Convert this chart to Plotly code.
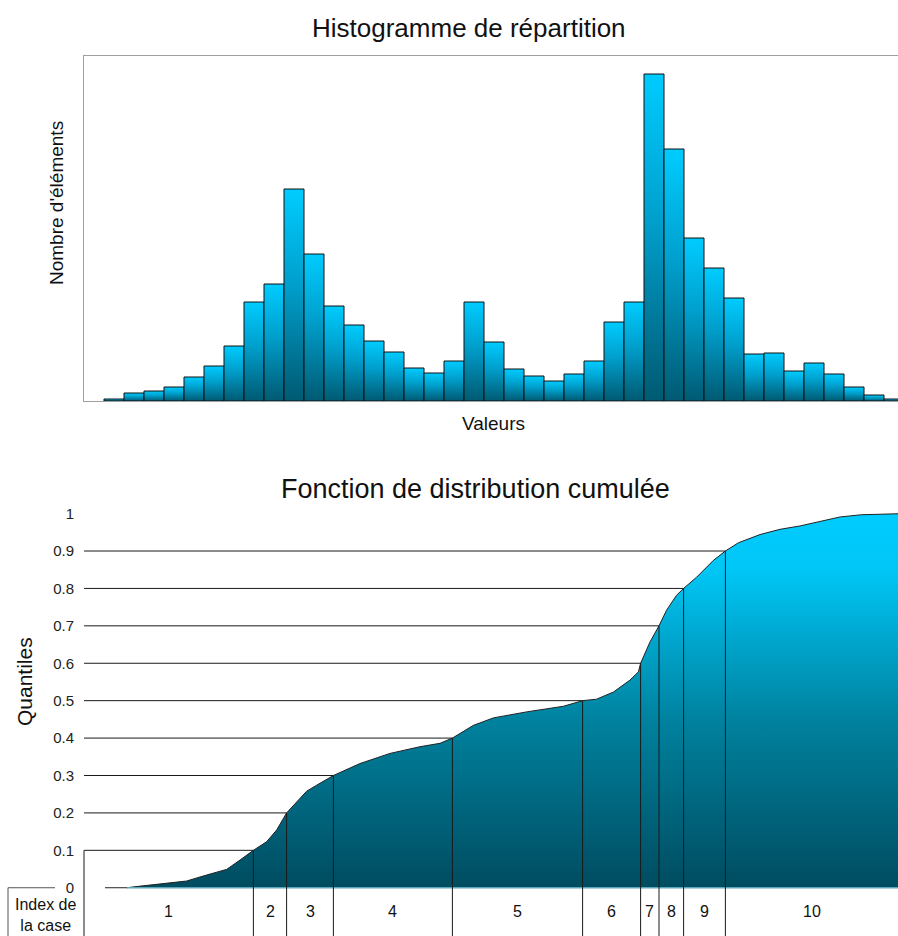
import numpy as np
import plotly.graph_objects as go

# Histogram (counts per bin, 40 bins of equal width)
hist_counts = [2, 8, 10, 14, 24, 35, 55, 99, 117, 212,
               147, 95, 76, 60, 49, 33, 28, 40, 99, 59,
               32, 25, 20, 27, 40, 79, 99, 327, 252, 163,
               133, 103, 47, 48, 30, 38, 27, 14, 6, 2]

# Cumulative distribution
cdf_x = [0.05, 1.15, 1.6, 3.13, 4.13, 5.13, 6.13, 6.8, 7.47, 8.13,
         8.63, 9.13, 9.8, 10.13, 10.63, 11.47, 12.8, 14.3, 15.8, 16.8,
         17.42, 18.47, 19.47, 21.13, 22.97, 23.93, 24.63, 25.47, 26.3, 26.72,
         26.83, 27.3, 27.75, 28.13, 28.63, 28.98, 29.63, 30.47, 31.07, 31.72,
         32.8, 33.8, 34.8, 35.8, 36.8, 37.88, 40.0]
cdf_y = [0, 0, 0.003, 0.012, 0.018, 0.034, 0.049, 0.074, 0.1, 0.123,
         0.154, 0.2, 0.239, 0.258, 0.274, 0.3, 0.332, 0.359, 0.377, 0.386,
         0.4, 0.434, 0.454, 0.47, 0.485, 0.5, 0.504, 0.523, 0.555, 0.577,
         0.6, 0.657, 0.7, 0.742, 0.782, 0.8, 0.83, 0.875, 0.9, 0.922,
         0.944, 0.958, 0.967, 0.98, 0.991, 0.997, 1.0]

levels = [0.1, 0.2, 0.3, 0.4, 0.5, 0.6, 0.7, 0.8, 0.9]
index_labels = ['1', '2', '3', '4', '5', '6', '7', '8', '9', '10']
y_ticks = [0, 0.1, 0.2, 0.3, 0.4, 0.5, 0.6, 0.7, 0.8, 0.9, 1]
y_ticktext = ['0', '0.1', '0.2', '0.3', '0.4', '0.5', '0.6', '0.7', '0.8', '0.9', '1']

W, H = 898, 936
FONT = 'Liberation Sans, Arial, sans-serif'
XMIN, XMAX = -1, 39.7
YLOW = -0.129

bar_scale = [[0, '#005a72'], [0.55, '#009fcc'], [1, '#00ccff']]
cdf_scale = [[0, '#004c60'], [0.45, '#00829f'], [0.85, '#00c6f6'], [1, '#00ccff']]

fig = go.Figure()

# histogram bars (one trace each so every bar gets its own gradient)
for i, h in enumerate(hist_counts):
    fig.add_trace(go.Scatter(
        x=[i, i, i + 1, i + 1, i], y=[0, h, h, 0, 0],
        mode='lines', fill='toself',
        fillgradient=dict(type='vertical', colorscale=bar_scale),
        line=dict(color='#111111', width=1),
        xaxis='x', yaxis='y', hoverinfo='skip', showlegend=False))

# cumulative curve
fig.add_trace(go.Scatter(
    x=cdf_x, y=cdf_y, mode='lines', fill='tozeroy',
    fillgradient=dict(type='vertical', colorscale=cdf_scale, start=0, stop=1),
    line=dict(color='#222222', width=1),
    xaxis='x2', yaxis='y2', hoverinfo='skip', showlegend=False))
fig.add_trace(go.Scatter(
    x=[cdf_x[1], XMAX + 1], y=[0, 0], mode='lines',
    line=dict(color='#5ba6b7', width=1.5),
    xaxis='x2', yaxis='y2', hoverinfo='skip', showlegend=False))

# quantile lines: horizontal to the curve, then down to the index row
xq = np.interp(levels, cdf_y, cdf_x)
lx, ly = [], []
for q, x in zip(levels, xq):
    lx += [XMIN, x, x, None]
    ly += [q, q, YLOW, None]
fig.add_trace(go.Scatter(
    x=lx, y=ly, mode='lines', line=dict(color='#1a1a1a', width=1),
    xaxis='x2', yaxis='y2', hoverinfo='skip', showlegend=False))

x0p = 84 / W
shapes = [
    dict(type='line', xref='paper', yref='y2', x0=x0p, x1=x0p, y0=0.1, y1=YLOW,
         line=dict(color='#1a1a1a', width=1)),
    dict(type='line', xref='paper', yref='y2', x0=8 / W, x1=55 / W, y0=0, y1=0,
         line=dict(color='#555555', width=1)),
    dict(type='line', xref='paper', yref='y2', x0=8 / W, x1=8 / W, y0=0, y1=YLOW,
         line=dict(color='#555555', width=1)),
]

# index labels centred between the quantile boundaries
bounds = [XMIN] + list(xq) + [XMAX]
annotations = []
for k, lab in enumerate(index_labels):
    annotations.append(dict(x=(bounds[k] + bounds[k + 1]) / 2, y=YLOW / 2,
                            xref='x2', yref='y2', text=lab, showarrow=False,
                            font=dict(size=16, color='#111111')))


def ptext(text, x, y, size, angle=0):
    return dict(text=text, x=x / W, y=1 - y / H, xref='paper', yref='paper',
                showarrow=False, textangle=angle, xanchor='center', yanchor='middle',
                font=dict(size=size, color='#111111', family=FONT))


annotations += [
    ptext('Histogramme de répartition', 469, 28, 26),
    ptext('Valeurs', 493, 424, 19),
    ptext("Nombre d'éléments", 56, 203, 19, -90),
    ptext('Fonction de distribution cumulée', 475, 489, 27),
    ptext('Quantiles', 24, 682, 21, -90),
    ptext('Index de<br>la case', 45, 915, 16),
]

fig.update_layout(
    width=W, height=H,
    margin=dict(l=0, r=0, t=0, b=0),
    paper_bgcolor='white', plot_bgcolor='white',
    font=dict(family=FONT, color='#111111'),
    shapes=shapes, annotations=annotations,
    xaxis=dict(domain=[x0p, 1], range=[XMIN, XMAX], showline=True, mirror=True,
               linecolor='#a0a0a0', linewidth=1, showgrid=False, zeroline=False,
               showticklabels=False, ticks='', anchor='y'),
    yaxis=dict(domain=[1 - 401 / H, 1 - 56 / H], range=[0, 345], showline=True,
               linecolor='#a0a0a0', linewidth=1, showgrid=False, zeroline=False,
               showticklabels=False, ticks='', anchor='x'),
    xaxis2=dict(domain=[x0p, 1], range=[XMIN, XMAX], visible=False, anchor='y2'),
    yaxis2=dict(domain=[0, 1 - 505 / H], range=[YLOW, 1.023], showline=False,
                showgrid=False, zeroline=False, ticks='', tickvals=y_ticks,
                ticktext=y_ticktext, ticklabelstandoff=9,
                tickfont=dict(size=15, color='#222222'), anchor='x2'),
)

fig.write_html("out.html", config={'displayModeBar': False},
               post_script="document.body.style.margin='0';")
